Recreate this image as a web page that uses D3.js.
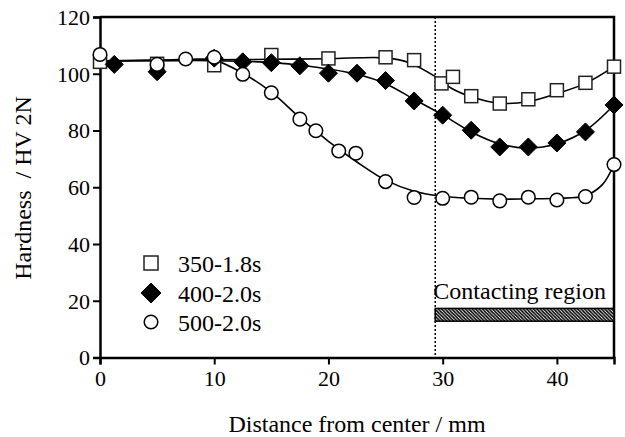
<!DOCTYPE html>
<html><head><meta charset="utf-8">
<script src="https://cdn.jsdelivr.net/npm/d3@7"></script>
<style>
html,body{margin:0;padding:0;background:#fff;}
svg{display:block;}
svg text{font-family:"Liberation Serif","Times New Roman",Times,"DejaVu Serif",serif !important;}
</style>
</head><body>
<script>
// ---- data ----
const xTicks = [0, 10, 20, 30, 40];
const yTicks = [0, 20, 40, 60, 80, 100, 120];

const seriesNames = ["350-1.8s", "400-2.0s", "500-2.0s"];

const squareX = [0, 5, 10, 15, 20, 25, 27.5, 29.9, 30.9, 32.5, 35, 37.5, 40, 42.5, 45];
const squareY = [104.2, 103.5, 103, 106.6, 105.4, 105.8, 104.8, 96.6, 98.9, 92.1, 89.5, 91, 94.2, 96.8, 102.5];

const diamondX = [1.25, 5, 10, 12.5, 15, 17.5, 20, 22.5, 25, 27.5, 30, 32.5, 35, 37.5, 40, 42.5, 45];
const diamondY = [103.3, 100.7, 105.5, 104.2, 103.9, 102.8, 100.2, 100.2, 97.6, 90.4, 85.4, 80.1, 74.2, 74.2, 75.6, 79.5, 89];

const circleX = [0, 5, 7.5, 10, 12.5, 15, 17.5, 18.9, 20.9, 22.4, 25, 27.5, 30, 32.5, 35, 37.5, 40, 42.5, 45];
const circleY = [106.8, 103.3, 105.2, 105.8, 99.8, 93.3, 84.0, 79.9, 72.8, 72.0, 62.0, 56.4, 56.1, 56.5, 55.2, 56.5, 55.5, 56.7, 68];

// fitted trend curves
const squareFitX = [0, 5, 10, 15, 20, 25, 27, 29.4, 30.8, 32.5, 35, 37.5, 40, 42.5, 45];
const squareFitY = [104.5, 104.7, 104.9, 105.1, 105.3, 105.6, 104.0, 98.9, 94.8, 91.9, 89.6, 90.2, 93.0, 96.6, 102.5];

const diamondFitX = [0, 5, 10, 15, 17.5, 20, 22.5, 25, 27.5, 30, 32.5, 35, 37.5, 40, 42.5, 45];
const diamondFitY = [104.5, 104.6, 104.6, 104.0, 103.0, 101.7, 99.8, 96.5, 91.0, 85.5, 79.5, 75.3, 73.8, 75.3, 80.0, 89];

const circleFitX = [0, 5, 8, 10, 12.5, 15, 17.5, 20, 22.5, 25, 27.5, 30, 32.5, 35, 37.5, 40, 42.5, 44, 45];
const circleFitY = [104.6, 104.8, 105.1, 104.8, 100.2, 93.5, 84.5, 76.2, 68.9, 62.5, 58.6, 56.8, 56.1, 55.8, 55.9, 56.1, 57.0, 61.0, 68];

const contactStart = 29.35;
const contactEnd = 45;
const contactBand = [12.8, 17.3];
const contactLabel = "Contacting region";

const xTitle = "Distance from center / mm";
const yTitle = "Hardness  / HV 2N";

// ---- drawing ----
const W = 625, H = 437;
const FONT = '"Liberation Serif", "Times New Roman", Times, serif';
const svg = d3.select("body").append("svg").attr("width", W).attr("height", H)
  .attr("font-family", FONT);

const x = d3.scaleLinear().domain([0, 45]).range([100, 614]);
const y = d3.scaleLinear().domain([0, 120]).range([357.5, 17]);

const defs = svg.append("defs");
const pat = defs.append("pattern").attr("id", "hatch").attr("patternUnits", "userSpaceOnUse")
  .attr("width", 3.4).attr("height", 3.4);
pat.append("rect").attr("width", 3.4).attr("height", 3.4).attr("fill", "#fff");
pat.append("path").attr("d", "M0,0 L3.4,3.4 M-0.85,2.55 L0.85,4.25 M2.55,-0.85 L4.25,0.85")
  .attr("stroke", "#000").attr("stroke-width", 1.6);

// frame top/right
svg.append("path")
  .attr("d", `M${x(0)},${y(120)} L${x(45)},${y(120)} L${x(45)},${y(0)}`)
  .attr("fill", "none").attr("stroke", "#000").attr("stroke-width", 2.5);

// axes
const gx = svg.append("g").attr("transform", `translate(0,${y(0)})`)
  .call(d3.axisBottom(x).tickValues(xTicks).tickSizeOuter(0).tickSize(7).tickPadding(6));
const gy = svg.append("g").attr("transform", `translate(${x(0)},0)`)
  .call(d3.axisLeft(y).tickValues(yTicks).tickSizeOuter(0).tickSize(7).tickPadding(3));
[gx, gy].forEach(g => {
  g.attr("font-family", FONT).attr("font-size", 22);
  g.select(".domain").attr("stroke-width", 2.5).attr("stroke", "#000");
  g.selectAll(".tick line").attr("stroke-width", 2).attr("stroke", "#000");
  g.selectAll(".tick text").attr("font-size", 22).attr("fill", "#000");
});
gy.selectAll(".tick text").attr("dy", "0.34em");
gx.selectAll(".tick text").attr("dy", "0.72em");

// axis titles
svg.append("text").attr("x", 357).attr("y", 432).attr("text-anchor", "middle")
  .attr("font-size", 24).text(xTitle);
svg.append("text").attr("transform", `translate(31,188) rotate(-90)`).attr("text-anchor", "middle")
  .attr("font-size", 24).attr("xml:space", "preserve").style("white-space", "pre").text(yTitle);

// dotted contact boundary
svg.append("line").attr("x1", x(contactStart)).attr("x2", x(contactStart))
  .attr("y1", y(120)).attr("y2", y(0))
  .attr("stroke", "#000").attr("stroke-width", 1.5).attr("stroke-dasharray", "2,2");

// contact band
svg.append("rect").attr("x", x(contactStart)).attr("y", y(contactBand[1]))
  .attr("width", x(contactEnd) - x(contactStart)).attr("height", y(contactBand[0]) - y(contactBand[1]))
  .attr("fill", "url(#hatch)").attr("stroke", "#000").attr("stroke-width", 1.5);
svg.append("text").attr("x", (x(contactStart) + x(contactEnd)) / 2 - 5).attr("y", 299)
  .attr("text-anchor", "middle").attr("font-size", 24).text(contactLabel);

// fit lines
const line = d3.line().x(d => x(d[0])).y(d => y(d[1])).curve(d3.curveCatmullRom.alpha(0.5));
[[squareFitX, squareFitY], [diamondFitX, diamondFitY], [circleFitX, circleFitY]].forEach(([xs, ys]) => {
  svg.append("path").attr("d", line(xs.map((v, i) => [v, ys[i]])))
    .attr("fill", "none").attr("stroke", "#000").attr("stroke-width", 1.6);
});

// markers
function drawSquare(g, cx, cy, s) {
  g.append("rect").attr("x", cx - s / 2).attr("y", cy - s / 2).attr("width", s).attr("height", s)
    .attr("fill", "#fff").attr("stroke", "#222").attr("stroke-width", 1.5);
}
function drawDiamond(g, cx, cy, r) {
  g.append("path").attr("d", `M${cx},${cy - r} L${cx + r},${cy} L${cx},${cy + r} L${cx - r},${cy} Z`)
    .attr("fill", "#000").attr("stroke", "#000").attr("stroke-width", 1);
}
function drawCircle(g, cx, cy, r) {
  g.append("circle").attr("cx", cx).attr("cy", cy).attr("r", r)
    .attr("fill", "#fff").attr("stroke", "#000").attr("stroke-width", 1.5);
}
const gm = svg.append("g");
squareX.forEach((v, i) => drawSquare(gm, x(v), y(squareY[i]), 13));
diamondX.forEach((v, i) => drawDiamond(gm, x(v), y(diamondY[i]), 9));
circleX.forEach((v, i) => drawCircle(gm, x(v), y(circleY[i]), 6.8));

// legend
const lg = svg.append("g");
const legY = [263, 293, 322];
drawSquare(lg, 151, legY[0], 14);
drawDiamond(lg, 151, legY[1], 10);
drawCircle(lg, 151, legY[2], 6.8);
seriesNames.forEach((n, i) => {
  lg.append("text").attr("x", 178).attr("y", legY[i] + 8.5).attr("font-size", 24).text(n);
});
</script>
</body></html>
